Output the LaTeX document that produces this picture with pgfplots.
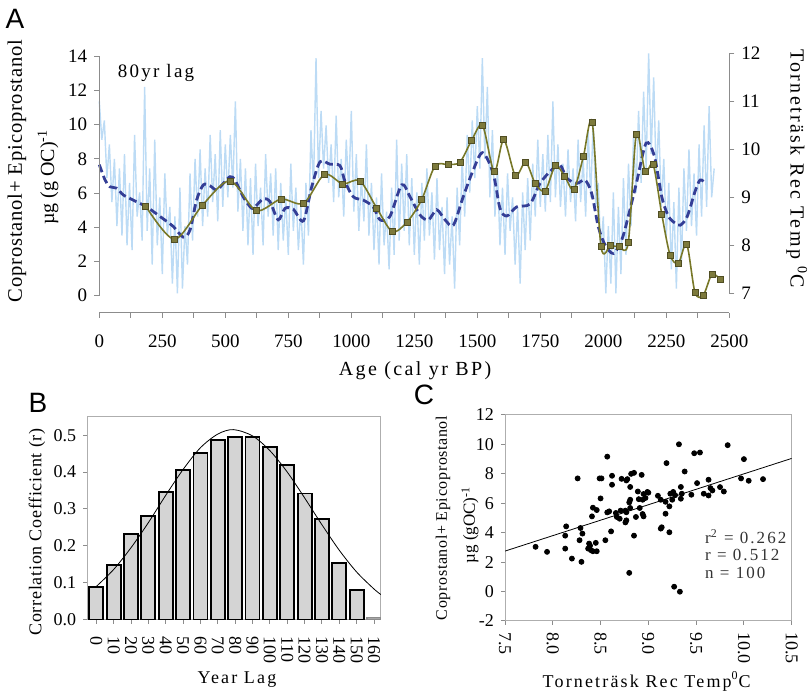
\documentclass[border=0pt]{standalone}
\usepackage{pgfplots}
\pgfplotsset{compat=1.18}
\usepackage{fontspec}
\setmainfont{Liberation Serif}
\newfontfamily\panelfont{Liberation Sans}
\newfontfamily\spacedfont[LetterSpace=12]{Liberation Serif}
\newfontfamily\lightspaced[LetterSpace=4]{Liberation Serif}
\definecolor{axgray}{RGB}{140,140,140}
\definecolor{noiseblue}{RGB}{188,219,245}
\definecolor{dashblue}{RGB}{52,62,150}
\definecolor{oliveline}{RGB}{120,120,40}
\definecolor{olivefill}{RGB}{125,122,60}
\definecolor{olivedraw}{RGB}{80,78,35}
\begin{document}
\begin{tikzpicture}
\useasboundingbox (0,0) rectangle (405pt,347.5pt);
% ---------------- Panel A: temperature (right axis)
\begin{axis}[
 at={(49.65pt,191.1pt)}, anchor=south west, width=315pt, height=129.75pt, scale only axis,
 xmin=0, xmax=2500, ymin=6.594, ymax=12,
 axis line style={draw=none}, xtick=\empty, ytick={7,8,...,12},
 ytick pos=right, yticklabel pos=right,
 tick align=outside, major tick length=2.5pt, tick style={axgray, line width=0.5pt},
 /pgf/number format/assume math mode=true,
 yticklabel style={font=\fontsize{9.5}{11}\selectfont},
 clip=false,
]
\addplot[noiseblue, line width=0.7pt] coordinates {
(0,11.0) (10,10.2) (20,10.6) (30,9.4) (40,10.1) (50,8.9) (60,9.8) (70,8.4) (80,9.6) (90,8.2)
(100,9.9) (110,8.0) (120,9.3) (130,7.9) (140,10.3) (150,8.6) (160,9.1) (170,8.1) (180,11.3) (190,8.3)
(200,9.6) (210,7.6) (220,10.2) (230,8.0) (240,9.0) (250,7.4) (260,9.5) (270,8.2) (280,8.8) (290,7.2)
(300,8.6) (310,7.0) (320,9.2) (330,7.1) (340,8.4) (350,7.6) (360,9.5) (370,8.1) (380,9.8) (390,8.6)
(400,10.0) (410,8.4) (420,9.6) (430,8.6) (440,10.3) (450,8.9) (460,9.9) (470,8.5) (480,10.4) (490,8.8)
(500,10.1) (510,9.0) (520,10.3) (530,9.2) (540,11.0) (550,8.7) (560,9.8) (570,8.3) (580,9.6) (590,8.0)
(600,9.4) (610,7.8) (620,9.7) (630,8.4) (640,9.2) (650,8.0) (660,9.9) (670,8.6) (680,9.5) (690,8.2)
(700,9.6) (710,7.9) (720,9.3) (730,8.1) (740,9.0) (750,7.8) (760,9.7) (770,8.3) (780,9.2) (790,7.9)
(800,8.8) (810,7.6) (820,9.3) (830,8.2) (840,10.4) (850,9.2) (860,11.9) (870,9.4) (880,10.8) (890,9.6)
(900,10.5) (910,9.3) (920,10.1) (930,8.9) (940,10.7) (950,9.0) (960,9.8) (970,8.6) (980,10.2) (990,9.1)
(1000,10.8) (1010,8.7) (1020,9.9) (1030,8.3) (1040,9.4) (1050,8.5) (1060,10.1) (1070,8.2) (1080,9.3) (1090,7.9)
(1100,9.0) (1110,7.6) (1120,9.5) (1130,8.0) (1140,8.7) (1150,7.5) (1160,9.2) (1170,7.8) (1180,10.2) (1190,8.1)
(1200,9.7) (1210,8.3) (1220,9.9) (1230,8.0) (1240,9.4) (1250,7.8) (1260,9.1) (1270,7.6) (1280,9.3) (1290,8.1)
(1300,9.6) (1310,8.2) (1320,9.1) (1330,7.7) (1340,9.4) (1350,7.9) (1360,8.8) (1370,7.4) (1380,9.0) (1390,7.6)
(1400,8.6) (1410,7.1) (1420,9.2) (1430,8.0) (1440,9.8) (1450,8.6) (1460,10.3) (1470,9.1) (1480,10.6) (1490,9.4)
(1500,10.9) (1510,9.6) (1520,11.9) (1530,9.8) (1540,11.3) (1550,9.0) (1560,10.4) (1570,8.6) (1580,9.6) (1590,8.0)
(1600,9.2) (1610,7.8) (1620,9.5) (1630,8.3) (1640,9.0) (1650,7.6) (1660,8.8) (1670,7.2) (1680,9.1) (1690,7.9)
(1700,9.4) (1710,8.1) (1720,9.7) (1730,8.6) (1740,10.2) (1750,8.8) (1760,9.9) (1770,8.7) (1780,10.3) (1790,8.9)
(1800,11.0) (1810,9.0) (1820,10.1) (1830,8.8) (1840,9.7) (1850,8.6) (1860,10.0) (1870,8.9) (1880,9.6) (1890,8.5)
(1900,10.2) (1910,8.9) (1920,9.8) (1930,8.6) (1940,10.4) (1950,9.0) (1960,10.6) (1970,8.8) (1980,9.3) (1990,7.9)
(2000,8.6) (2010,7.0) (2020,8.4) (2030,7.2) (2040,9.1) (2050,7.0) (2060,8.8) (2070,7.4) (2080,9.4) (2090,7.8)
(2100,9.7) (2110,8.4) (2120,10.3) (2130,9.1) (2140,10.8) (2150,9.3) (2160,11.2) (2170,9.6) (2180,12.0) (2190,9.9)
(2200,11.5) (2210,9.4) (2220,10.6) (2230,8.8) (2240,9.8) (2250,8.2) (2260,9.3) (2270,7.5) (2280,8.9) (2290,7.1)
(2300,9.2) (2310,7.6) (2320,9.6) (2330,8.3) (2340,10.0) (2350,8.4) (2360,9.5) (2370,8.2) (2380,10.1) (2390,8.6)
(2400,10.5) (2410,8.8) (2420,10.9) (2430,9.0) (2440,9.6)
};
\addplot[dashblue, line width=1.4pt, dash pattern=on 4pt off 2pt, smooth, tension=0.5] coordinates {
(0,9.68) (23,9.36) (42,9.22) (69,9.19) (95,9.05) (135,8.94) (188,8.80) (241,8.60) (294,8.39) (333,8.17)
(360,8.32) (386,8.94) (413,9.26) (439,9.24) (466,9.15) (492,9.29) (519,9.43) (538,9.36) (571,9.01) (605,8.77)
(625,8.84) (651,8.97) (677,8.91) (710,8.53) (737,8.77) (770,8.75) (810,8.51) (843,9.22) (876,9.74) (915,9.69)
(955,9.66) (975,9.33) (1008,9.01) (1048,8.94) (1087,8.80) (1114,8.53) (1153,8.60) (1200,9.26) (1233,9.01) (1273,8.63)
(1306,8.53) (1339,8.74) (1372,8.53) (1405,8.42) (1444,9.01) (1484,9.57) (1521,9.93) (1563,9.50) (1590,8.77) (1617,8.61)
(1656,8.80) (1709,8.86) (1749,9.29) (1795,9.57) (1829,9.67) (1855,9.40) (1895,9.29) (1927,9.36) (1954,9.08) (1980,8.39)
(2007,8.01) (2040,7.83) (2073,8.11) (2099,8.60) (2133,9.33) (2170,10.13) (2203,9.85) (2232,9.01) (2259,8.60) (2286,8.46)
(2306,8.42) (2333,8.60) (2364,9.12) (2384,9.36) (2404,9.30)
};
\draw[axgray, line width=0.5pt] (axis cs:2500,7) -- (axis cs:2500,12);
\end{axis}
% ---------------- Panel A: coprostanol (left axis)
\begin{axis}[
 at={(49.65pt,191.1pt)}, anchor=south west, width=315pt, height=129.75pt, scale only axis,
 xmin=0, xmax=2500, ymin=-1, ymax=14.18,
 axis line style={draw=none},
 xtick={0,250,...,2500}, minor xtick={125,375,...,2375},
 ytick={0,2,...,14},
 xtick pos=left, ytick pos=left,
 tick align=outside, major tick length=2.5pt, minor tick length=2.5pt,
 tick style={axgray, line width=0.5pt},
 /pgf/number format/assume math mode=true,
 /pgf/number format/1000 sep={},
 ticklabel style={font=\fontsize{9.5}{11}\selectfont},
 xticklabel style={yshift=-5pt},
 clip=false,
]
\addplot[oliveline, line width=0.8pt, smooth, tension=0.5, mark=square*, mark size=1.5pt,
  mark options={fill=olivefill, draw=olivedraw, line width=0.3pt, solid}] coordinates {
(184,5.25) (298,3.30) (410,5.31) (519,6.72) (622,4.98) (721,5.65) (811,5.41) (893,7.09) (966,6.54) (1034,6.72)
(1101,5.12) (1163,3.75) (1222,4.32) (1279,5.61) (1332,7.58) (1383,7.68) (1431,7.81) (1478,9.10) (1521,9.96) (1567,7.25)
(1605,9.12) (1651,7.03) (1692,7.81) (1730,6.56) (1769,6.13) (1810,7.60) (1847,6.97) (1883,6.21) (1921,8.14) (1956,10.13)
(1991,2.87) (2029,2.93) (2063,2.87) (2099,3.10) (2131,9.43) (2166,7.26) (2198,7.66) (2232,4.77) (2265,2.38) (2298,1.90)
(2331,3.01) (2364,0.18) (2397,0.04) (2431,1.25) (2463,0.96)
};
\draw[axgray, line width=0.5pt] (axis cs:0,-1) -- (axis cs:2500,-1);
\draw[axgray, line width=0.5pt] (axis cs:0,0) -- (axis cs:0,14);
\end{axis}
% ---------------- Panel B
\begin{axis}[
 at={(43.65pt,37.65pt)}, anchor=south west, width=146.85pt, height=101.5pt, scale only axis,
 xmin=-0.518, xmax=16.4, ymin=0, ymax=0.55,
 axis line style={axgray!70, line width=0.5pt},
 xtick={0,1,...,16}, xticklabels={0,10,20,30,40,50,60,70,80,90,100,110,120,130,140,150,160},
 ytick={0,0.1,0.2,0.3,0.4,0.5},
 xtick pos=left, ytick pos=left,
 tick align=outside, major tick length=2pt, tick style={axgray, line width=0.5pt},
 /pgf/number format/assume math mode=true,
 ticklabel style={font=\fontsize{9}{10}\selectfont},
 yticklabel style={/pgf/number format/.cd, fixed, fixed zerofill, precision=1},
 xticklabel style={rotate=-90, anchor=west, inner xsep=6pt},
]
\addplot[ybar, bar width=7pt, bar shift=0pt, fill=black!17, draw=black, line width=0.9pt] coordinates {
(0,0.089) (1,0.148) (2,0.232) (3,0.282) (4,0.345) (5,0.405) (6,0.452) (7,0.487) (8,0.496)
(9,0.495) (10,0.468) (11,0.419) (12,0.342) (13,0.273) (14,0.154) (15,0.081)
};
\addplot[ybar, bar width=7pt, bar shift=0pt, fill=black!35, draw=black!45, line width=0.6pt] coordinates {(16,0.006)};
\addplot[black, line width=0.4pt, smooth] coordinates {
(0,0.090) (1,0.136) (2,0.195) (3,0.263) (4,0.337) (5,0.407) (6,0.466) (7,0.503) (7.9,0.515)
(9,0.498) (10,0.458) (11,0.400) (12,0.330) (13,0.257) (14,0.188) (15,0.129) (16,0.083) (16.4,0.068)
};
\end{axis}
% ---------------- Panel C
\begin{axis}[
 at={(252.5pt,37pt)}, anchor=south west, width=143.35pt, height=103pt, scale only axis,
 xmin=7.5, xmax=10.5, ymin=-2, ymax=12,
 axis line style={axgray!70, line width=0.5pt},
 xtick={7.5,8,8.5,9,9.5,10,10.5}, ytick={-2,0,2,4,6,8,10,12},
 xtick pos=left, ytick pos=left,
 tick align=outside, major tick length=2pt, tick style={axgray, line width=0.5pt},
 /pgf/number format/assume math mode=true,
 ticklabel style={font=\fontsize{9}{10}\selectfont},
 xticklabel style={rotate=-90, anchor=west, /pgf/number format/.cd, fixed, fixed zerofill, precision=1},
]
\addplot[only marks, mark=*, mark size=1.25pt, black] coordinates {
(7.82,3.04) (7.94,2.70) (8.13,2.92) (8.14,4.43) (8.13,3.80) (8.20,2.24) (8.26,7.69) (8.29,4.32) (8.28,3.49) (8.31,3.94)
(8.30,2.02) (8.38,3.26) (8.37,2.92) (8.39,3.12) (8.40,2.81) (8.42,2.74) (8.41,5.11) (8.42,5.70) (8.45,3.31) (8.46,2.74)
(8.46,5.54) (8.49,7.69) (8.51,7.69) (8.50,6.33) (8.55,3.49) (8.57,9.17) (8.57,5.38) (8.59,5.45) (8.62,7.26) (8.62,7.87)
(8.61,4.09) (8.66,5.34) (8.72,7.66) (8.70,4.95) (8.77,7.55) (8.78,7.64) (8.76,5.50) (8.77,5.39) (8.76,4.70) (8.77,4.84)
(8.81,6.24) (8.81,5.68) (8.81,7.11) (8.82,8.00) (8.85,8.07) (8.80,1.27) (8.85,3.80) (8.87,5.07) (8.89,6.80) (8.90,6.28)
(8.91,5.68) (8.93,7.93) (8.94,6.24) (8.94,5.27) (8.95,5.11) (8.95,6.63) (8.97,6.36) (8.99,6.77) (9.10,6.51) (9.13,6.24)
(9.13,4.28) (9.14,4.37) (9.19,8.73) (9.18,5.29) (9.22,5.79) (9.22,4.03) (9.23,6.65) (9.25,6.24) (9.26,6.77) (9.32,10.01)
(9.34,7.11) (9.34,6.31) (9.35,6.65) (9.27,0.33) (9.33,-0.01) (9.38,8.16) (9.45,6.58) (9.48,9.40) (9.51,7.37) (9.54,9.45)
(9.58,6.65) (9.63,6.53) (9.63,7.60) (9.65,7.03) (9.67,6.87) (9.75,7.10) (9.79,6.80) (9.83,9.95) (9.97,7.69) (10.00,9.00)
(10.05,7.53) (10.20,7.64) (8.80,6.06) (8.71,5.50) (8.67,5.07) (9.00,6.72) (9.18,6.10) (9.28,6.55)
};
\addplot[black, line width=0.4pt] coordinates {(7.5,2.75) (10.5,9.05)};
\node[anchor=west, text=black!80, font=\spacedfont\fontsize{8.5}{10}\selectfont] at (axis cs:9.52,3.75) {r\textsuperscript{2} = 0.262};
\node[anchor=west, text=black!80, font=\spacedfont\fontsize{8.5}{10}\selectfont] at (axis cs:9.52,2.51) {r = 0.512};
\node[anchor=west, text=black!80, font=\spacedfont\fontsize{8.5}{10}\selectfont] at (axis cs:9.52,1.27) {n = 100};
\end{axis}
% ---------------- labels
\node[font=\panelfont\fontsize{14}{16}\selectfont] at (7.5pt,338pt) {A};
\node[font=\panelfont\fontsize{14}{16}\selectfont] at (19pt,146pt) {B};
\node[font=\panelfont\fontsize{14}{16}\selectfont] at (212pt,150pt) {C};
\node[font=\spacedfont\fontsize{9.5}{11}\selectfont] at (78pt,311pt) {80yr lag};
\node[rotate=90, font=\lightspaced\fontsize{10.3}{12}\selectfont] at (8.5pt,262pt) {Coprostanol+ Epicoprostanol};
\node[rotate=90, font=\fontsize{10}{12}\selectfont] at (24pt,259pt) {µg (g OC)\textsuperscript{-1}};
\node[rotate=-90, font=\spacedfont\fontsize{10}{12}\selectfont] at (398.35pt,263.25pt) {Torneträsk Rec Temp \textsuperscript{0}C};
\node[font=\spacedfont\fontsize{10}{12}\selectfont] at (207.5pt,162pt) {Age (cal yr BP)};
\node[rotate=90, font=\lightspaced\fontsize{9}{11}\selectfont] at (18.5pt,81.5pt) {Correlation Coefficient (r)};
\node[font=\spacedfont\fontsize{9}{11}\selectfont] at (118.5pt,7.5pt) {Year Lag};
\node[rotate=90, font=\lightspaced\fontsize{8}{10}\selectfont] at (221.5pt,88.5pt) {Coprostanol+ Epicoprostanol};
\node[rotate=90, font=\fontsize{8.5}{10}\selectfont] at (235pt,85pt) {µg (gOC)\textsuperscript{-1}};
\node[font=\spacedfont\fontsize{9}{11}\selectfont] at (323.35pt,6.65pt) {Torneträsk Rec Temp\textsuperscript{0}C};
\end{tikzpicture}
\end{document}
